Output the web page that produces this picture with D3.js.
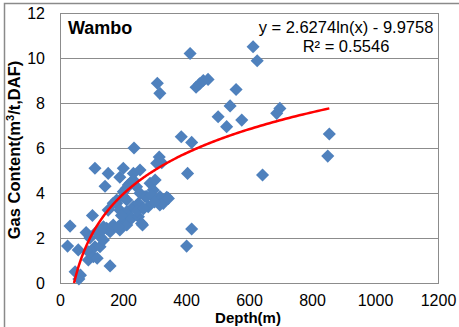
<!DOCTYPE html>
<html><head><meta charset="utf-8">
<script src="https://cdn.jsdelivr.net/npm/d3@7"></script>
<style>body{margin:0;background:#fff}svg{display:block}text{font-family:"Liberation Sans",Arial,sans-serif}</style>
</head><body>
<svg id="c" width="459" height="327"></svg>
<script>
const depth = [24,32,48,60,65,58,83,90,90,95,103,106,111,111,116,118,127,127,138,138,143,148,153,153,159,159,169,169,180,180,190,190,201,201,201,201,212,212,212,217,222,222,228,233,233,233,235,243,249,249,254,254,259,262,270,275,280,286,296,302,307,315,323,317,317,328,339,344,309,317,385,418,405,418,402,413,432,443,455,470,502,529,540,559,577,613,626,643,688,698,850,855,185,195,245,265,290,300,210,190,131];
const gas   = [1.64,2.53,0.5,0.18,0.35,1.47,2.24,1.02,1.39,2.0,3.0,1.17,5.1,1.61,2.28,1.1,1.61,2.06,1.91,2.5,4.3,2.43,4.87,3.24,0.76,2.28,2.58,3.54,3.54,3.69,2.36,3.24,2.72,3.84,4.06,5.1,3.17,3.69,2.58,4.36,4.43,2.95,2.88,4.87,4.58,3.39,6.0,4.28,3.54,2.95,5.02,3.99,2.65,2.58,3.84,3.84,3.39,4.43,4.13,4.58,5.32,5.6,5.35,3.84,3.47,3.54,3.81,3.76,8.88,8.43,6.5,6.25,4.87,2.4,1.64,10.2,8.7,8.85,9.0,9.05,7.39,6.95,7.87,8.6,7.24,10.5,9.88,4.8,7.54,7.76,5.64,6.62,2.5,3.0,3.2,3.3,3.9,3.6,4.2,4.7,2.3];
const xTicks = [0,200,400,600,800,1000,1200];
const yTicks = [0,2,4,6,8,10,12];
const fitA = 2.6274, fitB = -9.9758;
const fitRange = [44.6, 855];
const eqLines = ["y = 2.6274ln(x) - 9.9758", "R\u00b2 = 0.5546"];
const siteLabel = "Wambo";

const svg = d3.select("#c");
const L=60,R=438,T=13,B=283;
const x = d3.scaleLinear().domain([0,1200]).range([L,R]);
const y = d3.scaleLinear().domain([0,12]).range([B,T]);

// outer chart border (cropped)
svg.append("path").attr("d","M4.5,327V3.5H459").attr("fill","none").attr("stroke","#8a8a8a").attr("stroke-width",1.5);

// gridlines
svg.append("g").selectAll("line").data(yTicks.filter(d=>d>0&&d<12)).join("line")
  .attr("x1",L).attr("x2",R).attr("y1",d=>Math.round(y(d))+0.5).attr("y2",d=>Math.round(y(d))+0.5)
  .attr("stroke","#8c8c8c").attr("stroke-width",1);
svg.append("rect").attr("x",L+0.5).attr("y",T+0.5).attr("width",R-L).attr("height",B-T)
  .attr("fill","none").attr("stroke","#8c8c8c").attr("stroke-width",1);

// axes labels
const xa = svg.append("g").attr("transform",`translate(0,${B})`).call(d3.axisBottom(x).tickValues(xTicks).tickFormat(d3.format("d")).tickSize(0).tickPadding(0));
xa.select(".domain").remove();
xa.selectAll("text").attr("font-size",16).attr("font-family","Liberation Sans, Arial").attr("fill","#000").attr("dy",null).attr("y",23);
const ya = svg.append("g").attr("transform",`translate(${L},0)`).call(d3.axisLeft(y).tickValues(yTicks).tickSize(0).tickPadding(15));
ya.select(".domain").remove();
ya.selectAll("text").attr("font-size",16).attr("font-family","Liberation Sans, Arial").attr("fill","#000").attr("dy","0.35em");

// points
svg.append("g").selectAll("path").data(depth.map((d,i)=>[d,gas[i]])).join("path")
  .attr("d", d3.symbol(d3.symbolSquare, 86))
  .attr("transform", d=>`translate(${x(d[0])},${y(d[1])}) rotate(45)`)
  .attr("fill","#4f81bd");

// trend line
const fx = d3.range(0,201).map(i=>fitRange[0]*Math.pow(fitRange[1]/fitRange[0], i/200));
svg.append("path").datum(fx)
  .attr("d", d3.line().x(d=>x(d)).y(d=>y(fitA*Math.log(d)+fitB)))
  .attr("fill","none").attr("stroke","#ff0000").attr("stroke-width",2.5);

// equation
svg.append("g").selectAll("text").data(eqLines).join("text")
  .attr("x",346).attr("y",(d,i)=>33+i*18.5).attr("text-anchor","middle")
  .attr("font-size",16.5).text(d=>d);

svg.append("text").attr("x",68).attr("y",34).attr("font-size",18).attr("font-weight","bold").text(siteLabel);

// axis titles
svg.append("text").attr("x",248).attr("y",323).attr("text-anchor","middle").attr("font-size",15).attr("font-weight","bold").text("Depth(m)");
const yt = svg.append("text").attr("transform","translate(20,150) rotate(-90)").attr("text-anchor","middle").attr("font-size",16.5).attr("font-weight","bold");
yt.append("tspan").text("Gas Content(m");
yt.append("tspan").attr("font-size",11).attr("dy",-6).text("3");
yt.append("tspan").attr("dy",6).text("/t,DAF)");
</script>
</body></html>
